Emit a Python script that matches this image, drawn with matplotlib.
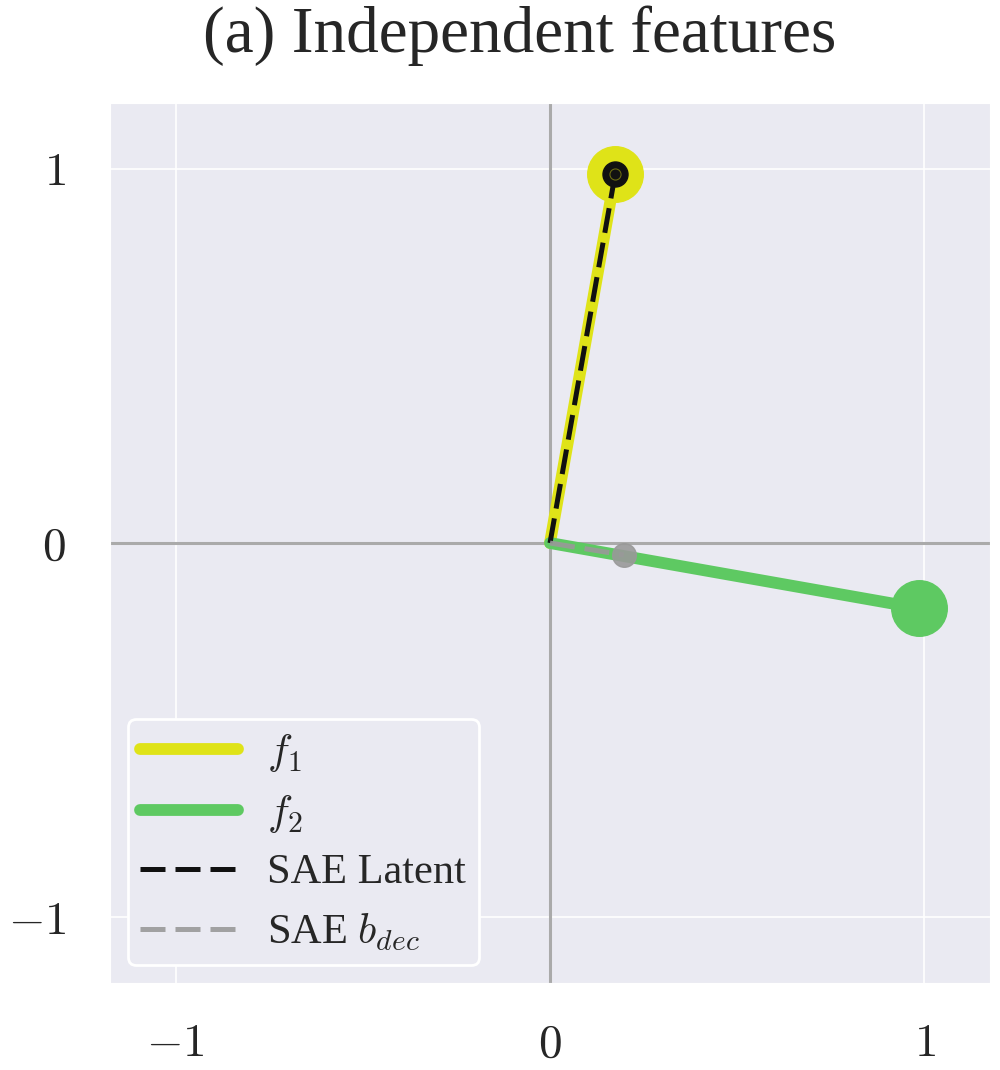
import numpy as np
import matplotlib
matplotlib.use("Agg")
import matplotlib.pyplot as plt
import seaborn as sns

sns.set_style("darkgrid")
plt.rcParams['font.family'] = ['Liberation Serif', 'DejaVu Serif']
plt.rcParams['mathtext.fontset'] = 'cm'

# data
f1 = [0.174, 0.985]
f2 = [0.985, -0.174]
sae_latent = [0.174, 0.985]
sae_bdec = [0.197, -0.032]
ticks = [-1, 0, 1]
tick_labels = [r'$-1$', r'$0$', r'$1$']
lim = 1.175

yellow = '#dfe318'
green = '#5ec962'

fig = plt.figure(figsize=(10, 10.7), dpi=100)
ax = fig.add_axes([0.110, 0.0813, 0.880, 0.8224])

ax.axhline(0, color='#aaaaaa', lw=2.2, zorder=1)
ax.axvline(0, color='#aaaaaa', lw=2.2, zorder=1)

ax.plot([0, f1[0]], [0, f1[1]], color=yellow, lw=8.5, solid_capstyle='round', label=r'$f_1$', zorder=3)
ax.plot([f1[0]], [f1[1]], 'o', color=yellow, ms=40, zorder=3)
ax.plot([0, f2[0]], [0, f2[1]], color=green, lw=8.5, solid_capstyle='round', label=r'$f_2$', zorder=3)
ax.plot([f2[0]], [f2[1]], 'o', color=green, ms=40, zorder=3)

ax.plot([0, sae_latent[0]], [0, sae_latent[1]], color='#111111', lw=3.6, ls=(0, (5.0, 2.0)), label='SAE Latent', zorder=4)
ax.plot([sae_latent[0]], [sae_latent[1]], 'o', color='#111111', ms=18, zorder=4)
ax.plot([sae_latent[0]], [sae_latent[1]], 'o', mfc='none', mec='#6b6b10', mew=0.8, ms=8, zorder=5)
ax.plot([0, sae_bdec[0]], [0, sae_bdec[1]], color='#999999', alpha=0.9, lw=3.6, ls=(0, (5.0, 2.0)), label=r'SAE $b_{dec}$', zorder=4)
ax.plot([sae_bdec[0]], [sae_bdec[1]], 'o', color='#999999', alpha=0.9, ms=17, zorder=4)

ax.set_xlim(-lim, lim)
ax.set_ylim(-lim, lim)
ax.set_xticks(ticks)
ax.set_xticklabels(tick_labels)
ax.set_yticks(ticks)
ax.set_yticklabels(tick_labels)
ax.tick_params(axis='both', labelsize=34)
ax.tick_params(axis='y', pad=28)
ax.tick_params(axis='x', pad=26)
ax.grid(color='white', lw=1.2)

fig.text(0.52, 0.951, '(a) Independent features', fontsize=47, ha='center', va='baseline', color='#262626')

leg = ax.legend(loc='lower left', fontsize=30.5, frameon=True, handlelength=2.3,
                borderpad=0.3, labelspacing=0.45, handletextpad=0.7,
                bbox_to_anchor=(0.02, 0.02), borderaxespad=0.0)
leg.get_frame().set_edgecolor('white')
leg.get_frame().set_linewidth(2)
leg.get_frame().set_facecolor('#eaeaf2')
leg.get_frame().set_alpha(1)

fig.savefig('out.png', dpi=100)
